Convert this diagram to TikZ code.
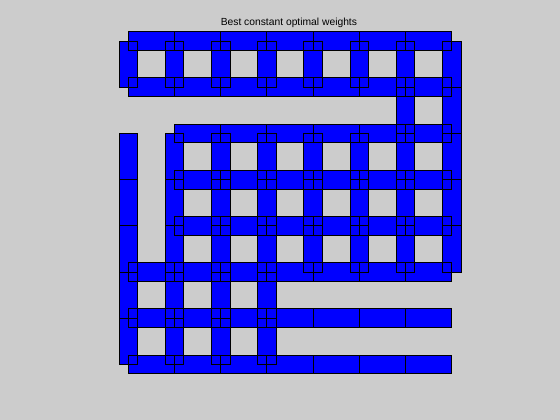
\documentclass[tikz,border=0pt]{standalone}
\usepackage{fontspec}
\setmainfont{Liberation Sans}
\usetikzlibrary{calc}
\definecolor{bggray}{RGB}{204,204,204}
\definecolor{edgeblue}{RGB}{0,0,255}
\tikzset{
  edgefill/.style={fill=edgeblue},
  edgeline/.style={draw=black, line width=0.9pt},
  titletext/.style={anchor=base, font=\fontsize{10.3}{12}\selectfont}
}
\newcommand\hw{9.35}
% horizontal edge from column #2 to #2+1 in row #1
\newcommand\hedge[3]{%
  \pgfmathtruncatemacro\nb{#2+1}%
  \path[#3] ($(n-#2-#1)+(0,\hw)$) rectangle ($(n-\nb-#1)+(0,-\hw)$);}
% vertical edge from row #2 to #2+1 in column #1
\newcommand\vedge[3]{%
  \pgfmathtruncatemacro\nb{#2+1}%
  \path[#3] ($(n-#1-#2)+(-\hw,0)$) rectangle ($(n-#1-\nb)+(\hw,0)$);}
\newcommand\alledges[1]{%
  \foreach \r/\s in {0/0,1/0,2/1,3/1,4/1,5/0,6/0,7/0}{
    \foreach \a in {\s,...,6}{\hedge{\r}{\a}{#1}}}
  \foreach \c in {0,1,2,3}{
    \foreach \r in {0,2,3,4,5,6}{\vedge{\c}{\r}{#1}}}
  \foreach \c in {4,5}{
    \foreach \r in {0,2,3,4}{\vedge{\c}{\r}{#1}}}
  \foreach \c in {6,7}{
    \foreach \r in {0,1,2,3,4}{\vedge{\c}{\r}{#1}}}
}
\begin{document}
\begin{tikzpicture}[x=1pt,y=1pt]
  \fill[bggray] (0,0) rectangle (560,-420);
  \foreach \c in {0,...,7}{
    \foreach \r in {0,...,7}{
      \coordinate (n-\c-\r) at ({128.3+46.2*\c},{-(41+46.2*\r)});}}
  \alledges{edgefill}
  \alledges{edgeline}
  \node[titletext] (title) at (288.9,-25.3) {Best constant optimal weights};
\end{tikzpicture}
\end{document}
